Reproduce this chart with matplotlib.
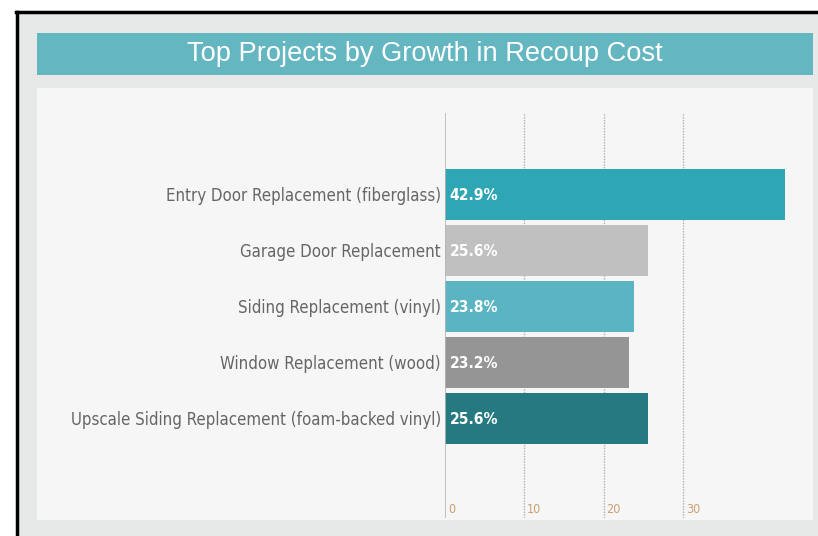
import matplotlib
matplotlib.use("Agg")
import matplotlib.pyplot as plt
from matplotlib.patches import Rectangle
from matplotlib.lines import Line2D

# ---------------------------------------------------------------------------
# Data
# ---------------------------------------------------------------------------
projects = [
    "Entry Door Replacement (fiberglass)",
    "Garage Door Replacement",
    "Siding Replacement (vinyl)",
    "Window Replacement (wood)",
    "Upscale Siding Replacement (foam-backed vinyl)",
]
growth = [42.9, 25.6, 23.8, 23.2, 25.6]
bar_colors = ["#2ea6b3", "#c0c0c0", "#5ab4c2", "#959595", "#247a80"]
ticks = [0, 10, 20, 30]
title = "Top Projects by Growth in Recoup Cost"

W, H = 818, 536


def px_x(x):
    return x / W


def px_y(y):
    return 1 - y / H


fig = plt.figure(figsize=(W / 100, H / 100), dpi=100)
fig.patch.set_facecolor("white")

# outer frame area
fig.add_artist(Rectangle((px_x(18), 0), 1 - px_x(18), px_y(12), transform=fig.transFigure,
                         facecolor="#e7e8e8", edgecolor="none", zorder=0))
fig.add_artist(Line2D([px_x(17), px_x(17)], [0, px_y(12)], transform=fig.transFigure,
                      color="black", linewidth=2.5, zorder=1))
fig.add_artist(Line2D([px_x(16), 1], [px_y(12), px_y(12)], transform=fig.transFigure,
                      color="black", linewidth=2.5, zorder=1))

# title banner
fig.add_artist(Rectangle((px_x(37), px_y(75)), px_x(813 - 37), (75 - 33) / H,
                         transform=fig.transFigure, facecolor="#64b6c0",
                         edgecolor="none", zorder=1))
fig.text(px_x(425), px_y(54), title, ha="center", va="center", color="white",
         fontsize=19.6, family="Liberation Sans", zorder=2)

# white panel
fig.add_artist(Rectangle((px_x(37), px_y(520)), px_x(813 - 37), (520 - 88) / H,
                         transform=fig.transFigure, facecolor="#f6f6f6",
                         edgecolor="none", zorder=1))

# plot area
ax = fig.add_axes([px_x(445), px_y(518), px_x(813 - 445), (518 - 113) / H])
ax.set_zorder(3)
ax.patch.set_alpha(0)
ypos = list(range(len(projects)))
ax.barh(ypos, growth, height=0.91, color=bar_colors, zorder=3)
ax.set_xlim(0, 46.4)
ax.set_ylim(len(projects) - 1 + 1.78, -1.45)

for t in ticks[1:]:
    ax.axvline(t, color="#b0b0b0", linestyle=(0, (1, 1)), linewidth=1, zorder=1)
ax.axvline(0, color="#b5b5b5", linewidth=1.2, zorder=4)

cond = dict(family="DejaVu Sans", fontstretch="condensed")
for t in ticks:
    ax.text(t + 0.35, 0.005, str(t), transform=ax.get_xaxis_transform(),
            ha="left", va="bottom", fontsize=9, color="#cc9f72", **cond)

for y, v, name in zip(ypos, growth, projects):
    ax.text(0.6, y, f"{v:.1f}%", ha="left", va="center_baseline", color="white",
            fontsize=11.2, fontweight="bold", zorder=5, **cond)
    ax.text(-0.5, y, name, ha="right", va="center_baseline", color="#666666",
            fontsize=12.1, zorder=5, **cond)

ax.set_xticks([])
ax.set_yticks([])
for s in ax.spines.values():
    s.set_visible(False)

fig.savefig("out.png", dpi=100)
